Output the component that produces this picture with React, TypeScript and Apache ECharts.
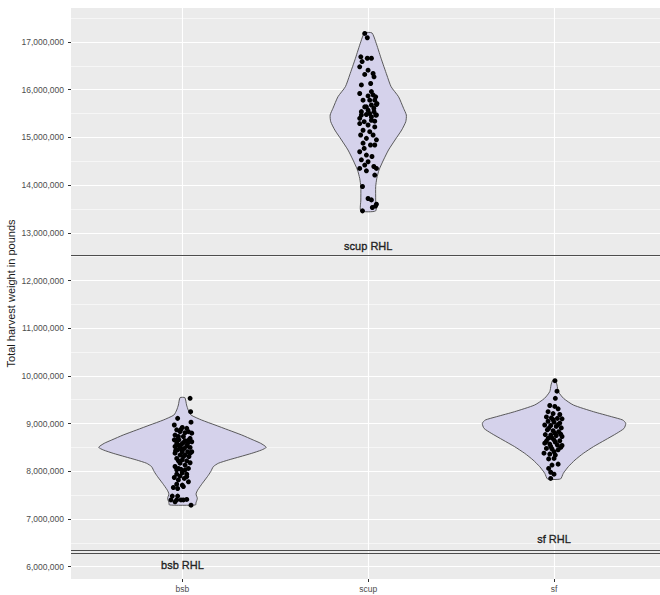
import React, { useEffect, useRef } from 'react';
import * as echarts from 'echarts';

const categories = ['bsb', 'scup', 'sf'];
const yMajorTicks = [6e6, 7e6, 8e6, 9e6, 10e6, 11e6, 12e6, 13e6, 14e6, 15e6, 16e6, 17e6];
const yMinorTicks = [6.5e6, 7.5e6, 8.5e6, 9.5e6, 10.5e6, 11.5e6, 12.5e6, 13.5e6, 14.5e6, 15.5e6, 16.5e6, 17.5e6];

// RHL reference lines (pounds) and their labels
const rhlLabels = ['bsb RHL', 'scup RHL', 'sf RHL'];
const rhlValues = [6.28e6, 12.535e6, 6.355e6];
const rhlLabelY = [6.035e6, 12.72e6, 6.574e6];

// Violin outlines: harvest (millions of pounds) and half-width (x units)
const bsbOutlineV = [9.543, 9.39, 9.285, 9.18, 9.075, 8.971, 8.866, 8.761, 8.656, 8.587, 8.503, 8.447, 8.377, 8.306, 8.237, 8.168, 8.097, 7.992, 7.887, 7.748, 7.608, 7.524, 7.434, 7.342, 7.294];
const bsbOutlineW = [0.013, 0.022, 0.031, 0.046, 0.103, 0.175, 0.247, 0.319, 0.381, 0.421, 0.451, 0.426, 0.373, 0.31, 0.247, 0.193, 0.166, 0.152, 0.134, 0.107, 0.082, 0.073, 0.08, 0.073, 0.07];
const scupOutlineV = [17.19, 17.006, 16.658, 16.308, 16.063, 15.853, 15.61, 15.47, 15.33, 15.155, 14.946, 14.736, 14.526, 14.317, 14.142, 13.967, 13.688, 13.46];
const scupOutlineW = [0.02, 0.04, 0.069, 0.1, 0.123, 0.163, 0.19, 0.205, 0.202, 0.18, 0.144, 0.109, 0.082, 0.058, 0.046, 0.04, 0.04, 0.04];
const sfOutlineV = [9.9, 9.81, 9.67, 9.53, 9.39, 9.25, 9.144, 9.075, 9.005, 8.9, 8.797, 8.656, 8.516, 8.377, 8.237, 8.097, 7.958, 7.84];
const sfOutlineW = [0.008, 0.016, 0.023, 0.051, 0.104, 0.212, 0.31, 0.37, 0.386, 0.377, 0.338, 0.275, 0.212, 0.158, 0.113, 0.077, 0.05, 0.035];

// Jittered points: [x jitter offset (units), harvest (millions of pounds)]
const bsbPoints = [
  [0.041, 9.53], [0.044, 9.25], [-0.026, 9.11], [0.046, 9.03], [-0.044, 8.97], [-0.001, 8.92], [0.023, 8.9], [-0.031, 8.87],
  [-0.013, 8.83], [0.032, 8.83], [0.05, 8.8], [-0.04, 8.76], [-0.022, 8.73], [0.005, 8.73], [0.041, 8.69], [-0.044, 8.66],
  [-0.019, 8.66], [0.014, 8.64], [0.05, 8.62], [-0.031, 8.59], [-0.004, 8.57], [0.028, 8.59], [-0.04, 8.52], [-0.013, 8.52],
  [0.01, 8.48], [0.041, 8.5], [-0.026, 8.45], [-0.001, 8.41], [0.028, 8.41], [0.05, 8.41], [-0.04, 8.38], [-0.013, 8.34],
  [0.014, 8.34], [0.035, 8.31], [-0.031, 8.27], [-0.001, 8.24], [0.023, 8.22], [-0.013, 8.17], [0.041, 8.18], [-0.04, 8.1],
  [-0.022, 8.06], [0.014, 8.03], [0.032, 8.06], [-0.001, 7.97], [-0.031, 7.94], [0.023, 7.94], [-0.044, 7.87], [0.01, 7.85],
  [-0.022, 7.82], [0.032, 7.78], [-0.031, 7.73], [-0.001, 7.71], [-0.049, 7.66], [-0.026, 7.64], [0.005, 7.68], [-0.055, 7.48],
  [-0.026, 7.48], [-0.008, 7.4], [0.005, 7.4], [-0.04, 7.36], [0.023, 7.41], [-0.062, 7.4], [0.046, 7.29], [-0.031, 7.4],
  [-0.008, 8.88], [0.014, 8.81], [-0.026, 8.67], [0.035, 8.66], [0.005, 8.6], [-0.022, 8.55], [0.023, 8.53], [-0.004, 8.46],
  [-0.037, 8.43], [0.041, 8.38], [0.005, 8.31], [-0.022, 8.22], [0.014, 8.13], [-0.008, 8.04], [-0.031, 8.03], [-0.013, 7.9],
  [0.023, 7.89],
];
const scupPoints = [
  [-0.019, 17.18], [-0.005, 17.09], [-0.04, 16.69], [-0.005, 16.66], [0.017, 16.66], [-0.033, 16.59], [-0.046, 16.48], [-0.001, 16.41],
  [-0.019, 16.32], [0.026, 16.34], [0.031, 16.27], [-0.037, 16.1], [0.013, 16.13], [-0.046, 15.92], [-0.001, 15.87], [0.026, 15.89],
  [0.008, 15.78], [0.035, 15.78], [-0.019, 15.64], [0.017, 15.68], [0.044, 15.69], [-0.001, 15.57], [0.031, 15.54], [-0.037, 15.47],
  [-0.01, 15.48], [0.017, 15.43], [0.044, 15.47], [-0.046, 15.4], [-0.022, 15.33], [0.035, 15.34], [-0.001, 15.26], [0.035, 15.22],
  [-0.028, 15.15], [0.008, 15.12], [-0.041, 15.05], [0.026, 15.05], [-0.01, 14.98], [0.044, 14.95], [-0.028, 14.88], [0.012, 14.84],
  [0.035, 14.84], [-0.046, 14.7], [-0.01, 14.63], [-0.037, 14.53], [-0.001, 14.49], [-0.019, 14.42], [0.03, 14.39], [-0.046, 14.35],
  [-0.01, 14.3], [0.044, 14.35], [0.035, 14.21], [-0.031, 13.97], [-0.001, 13.72], [0.017, 13.69], [0.044, 13.6], [0.022, 13.53],
  [-0.031, 13.46], [0.039, 13.56], [0.04, 15.85], [-0.028, 15.78], [0.047, 15.71], [-0.01, 15.64], [0.03, 15.61], [0.008, 15.5],
  [0.017, 15.36], [-0.046, 15.29], [0.017, 15.96], [-0.037, 15.54], [0.04, 15.47], [-0.022, 14.77], [0.02, 14.6],
];
const sfPoints = [
  [0.005, 9.9], [0.016, 9.68], [0.007, 9.53], [-0.023, 9.38], [0.004, 9.36], [0.022, 9.31], [-0.032, 9.25], [-0.005, 9.21],
  [0.031, 9.19], [-0.041, 9.14], [-0.014, 9.12], [0.018, 9.11], [0.043, 9.1], [-0.032, 9.05], [0.0, 9.03], [0.031, 9.01],
  [-0.05, 8.97], [-0.018, 8.96], [0.012, 8.94], [0.039, 8.91], [-0.036, 8.87], [-0.005, 8.85], [0.025, 8.83], [-0.047, 8.77],
  [-0.018, 8.76], [0.012, 8.75], [0.043, 8.73], [-0.032, 8.69], [0.0, 8.66], [0.031, 8.64], [-0.05, 8.59], [-0.023, 8.57],
  [0.018, 8.55], [0.043, 8.54], [-0.041, 8.48], [-0.011, 8.47], [0.022, 8.45], [-0.054, 8.38], [-0.023, 8.36], [0.007, 8.34],
  [-0.029, 8.26], [0.0, 8.27], [0.022, 8.15], [-0.011, 8.13], [-0.029, 8.06], [-0.018, 7.98], [0.0, 7.94], [-0.018, 7.85],
  [-0.005, 9.08], [0.022, 8.98], [-0.029, 8.9], [0.004, 8.8], [0.036, 8.78], [-0.011, 8.7], [-0.041, 8.63], [0.007, 8.61],
  [-0.018, 8.52], [0.036, 8.5], [0.0, 8.41],
];

const outlinesV = [bsbOutlineV, scupOutlineV, sfOutlineV];
const outlinesW = [bsbOutlineW, scupOutlineW, sfOutlineW];
const groupPoints = [bsbPoints, scupPoints, sfPoints];

const FONT = "'Liberation Sans', Arial, sans-serif";

export default function App() {
  const ref = useRef<HTMLDivElement>(null);
  useEffect(() => {
    if (!ref.current) return;
    const chart = echarts.init(ref.current, null, { renderer: 'svg' });

    const pointData: number[][] = [];
    groupPoints.forEach((pts, g) => {
      pts.forEach((p) => pointData.push([g + 1 + p[0], p[1] * 1e6]));
    });

    const yMin = 5.742e6;
    const yMax = 17.713e6;

    const option: any = {
      animation: false,
      backgroundColor: '#ffffff',
      textStyle: { fontFamily: FONT },
      grid: {
        left: 71,
        top: 8,
        width: 594.5,
        height: 571,
        show: true,
        backgroundColor: '#EBEBEB',
        borderWidth: 0,
        containLabel: false,
        outerBoundsMode: 'none',
      },
      xAxis: {
        type: 'value',
        min: 0.4,
        max: 3.6,
        axisLine: { show: false },
        axisTick: { show: true, customValues: [1, 2, 3], length: 3, lineStyle: { color: '#333333', width: 1 } },
        axisLabel: {
          customValues: [1, 2, 3],
          formatter: (v: number) => categories[Math.round(v) - 1] || '',
          color: '#4D4D4D',
          fontSize: 8.5,
          fontFamily: FONT,
          margin: 5,
        },
        splitLine: { show: true, lineStyle: { color: '#ffffff', width: 1.1 } },
      },
      yAxis: [
        {
          type: 'value',
          min: yMin,
          max: yMax,
          axisLine: { show: false },
          axisTick: { show: true, customValues: yMajorTicks, length: 3, lineStyle: { color: '#333333', width: 1 } },
          axisLabel: {
            customValues: yMajorTicks,
            formatter: (v: number) => Math.round(v).toLocaleString('en-US'),
            color: '#4D4D4D',
            fontSize: 8.5,
            fontFamily: FONT,
            margin: 7,
          },
          splitLine: { show: true, lineStyle: { color: '#ffffff', width: 1.1 } },
          name: 'Total harvest weight in pounds',
          nameLocation: 'middle',
          nameGap: 55,
          nameRotate: 90,
          nameMoveOverlap: false,
          nameTextStyle: { color: '#1A1A1A', fontSize: 11, fontFamily: FONT },
        },
        {
          type: 'value',
          min: yMin,
          max: yMax,
          position: 'left',
          axisLine: { show: false },
          axisTick: { show: false, customValues: yMinorTicks },
          axisLabel: { show: false, customValues: yMinorTicks },
          splitLine: { show: true, lineStyle: { color: '#ffffff', width: 0.55 } },
        },
      ],
      series: [
        {
          type: 'custom',
          coordinateSystem: 'cartesian2d',
          z: 2,
          data: [[1, 8.5e6], [2, 15.5e6], [3, 9e6]],
          encode: { x: 0, y: 1 },
          renderItem: (params: any, api: any) => {
            const g = params.dataIndex;
            const vs = outlinesV[g];
            const ws = outlinesW[g];
            const cx = g + 1;
            const left = vs.map((v, i) => api.coord([cx - ws[i], v * 1e6]));
            const right = vs.map((v, i) => api.coord([cx + ws[i], v * 1e6])).reverse();
            return {
              type: 'polygon',
              shape: { points: left.concat(right), smooth: 0.2 },
              style: { fill: '#D5D2EB', stroke: '#4A4A4A', lineWidth: 0.9 },
            };
          },
        },
        {
          type: 'scatter',
          z: 3,
          symbol: 'circle',
          symbolSize: 5,
          itemStyle: { color: '#000000', opacity: 1 },
          data: pointData,
        },
        {
          type: 'scatter',
          z: 4,
          symbol: 'circle',
          symbolSize: 1,
          itemStyle: { color: 'rgba(0,0,0,0)' },
          data: rhlLabels.map((name, i) => ({ name, value: [i + 1, rhlLabelY[i]] })),
          label: {
            show: true,
            position: 'inside',
            formatter: '{b}',
            color: '#000000',
            fontSize: 11,
            fontFamily: FONT,
            textBorderColor: '#000000',
            textBorderWidth: 0.4,
          },
          markLine: {
            silent: true,
            symbol: 'none',
            label: { show: false },
            lineStyle: { color: '#4D4D4D', width: 1, type: 'solid' },
            data: rhlValues.map((v) => ({ yAxis: v })),
          },
        },
      ],
    };
    chart.setOption(option);
    return () => chart.dispose();
  }, []);
  return (
    <div
      ref={ref}
      style={{ position: 'absolute', left: 0, top: 0, width: 660, height: 595, overflow: 'hidden', background: '#fff' }}
    />
  );
}
